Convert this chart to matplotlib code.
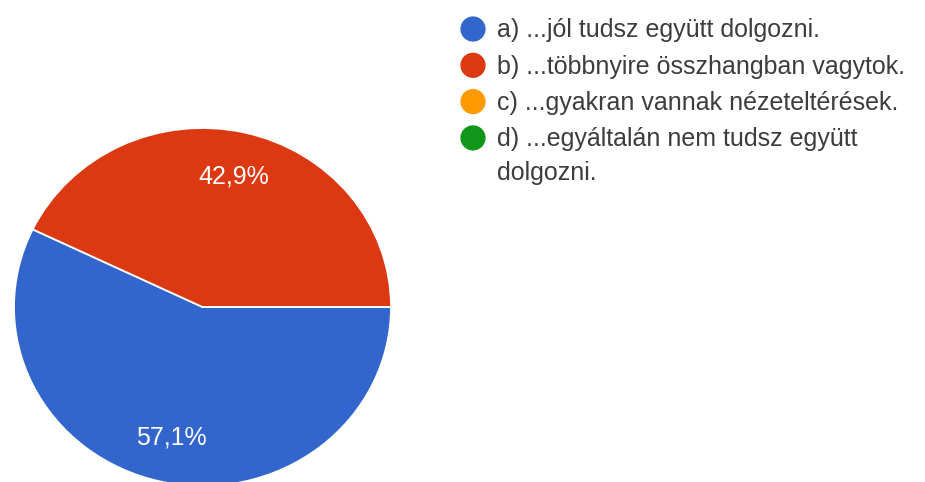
import matplotlib.pyplot as plt

# valaszok szama (7 kitolto)
labels = [
    "a) ...jól tudsz együtt dolgozni.",
    "b) ...többnyire összhangban vagytok.",
    "c) ...gyakran vannak nézeteltérések.",
    "d) ...egyáltalán nem tudsz együtt\ndolgozni.",
]
counts = [4, 3, 0, 0]
colors = ["#3366cc", "#dc3912", "#ff9900", "#109618"]

W, H = 925, 482
plt.rcParams['font.family'] = ['Liberation Sans', 'DejaVu Sans']
fig = plt.figure(figsize=(W / 100, H / 100), dpi=100)


def szazalek(pct):
    if pct < 0.05:
        return ""
    return f"{pct:.1f}".replace(".", ",") + "%"


# kor (kicsit ellipszis, mint az eredeti kepen)
ax = fig.add_axes([14 / W, -4 / H, 377 / W, 358 / H])
wedges, texts, autotexts = ax.pie(
    counts, colors=colors, startangle=0, counterclock=False,
    autopct=szazalek, pctdistance=0.745,
    wedgeprops=dict(edgecolor="white", linewidth=1.3),
    textprops=dict(color="white", fontsize=18),
)
ax.set_xlim(-1, 1)
ax.set_ylim(-1, 1)
ax.set_aspect("auto")

# jelmagyarazat kezzel, pixel koordinatakban
lax = fig.add_axes([0, 0, 1, 1])
lax.set_xlim(0, W)
lax.set_ylim(H, 0)
lax.axis("off")
sor_y0 = 29
sor_koz = 36.3
for i, (lab, col) in enumerate(zip(labels, colors)):
    y = sor_y0 + i * sor_koz
    lax.scatter([473], [y], s=330, color=col, edgecolors="none")
    for j, resz in enumerate(lab.split("\n")):
        lax.text(497, y + 8.5 + j * 34, resz, fontsize=18, color="#3d3d3d",
                 va="baseline", ha="left")

fig.savefig("out.png", dpi=100)
